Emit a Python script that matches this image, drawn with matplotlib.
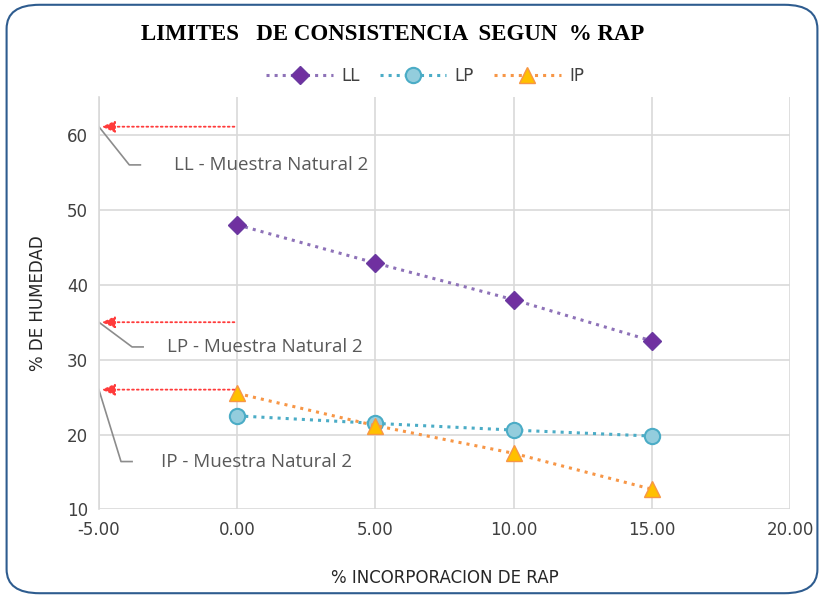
import matplotlib.pyplot as plt
from matplotlib.patches import FancyBboxPatch

# % RAP incorporation and consistency limits
rap = [0, 5, 10, 15]
ll = [48.0, 42.9, 38.0, 32.5]
lp = [22.5, 21.5, 20.6, 19.8]
ip = [25.5, 21.2, 17.5, 12.7]

# natural sample values (arrows to the y axis)
nat_labels = ["LL - Muestra Natural 2", "LP - Muestra Natural 2", "IP - Muestra Natural 2"]
nat_values = [61.1, 35.0, 26.0]
nat_text_y = [56.0, 31.7, 16.4]
nat_text_x = [-2.3, -2.55, -2.75]
nat_kink_x = [-3.9, -3.8, -4.2]

fig = plt.figure(figsize=(8.24, 5.98), dpi=100)
fig.patches.append(FancyBboxPatch((0.008, 0.008), 0.984, 0.984,
                                  boxstyle="round,pad=0,rounding_size=0.04",
                                  transform=fig.transFigure, fill=False,
                                  edgecolor="#2e5c8f", linewidth=1.5))

ax = fig.add_axes([0.120, 0.148, 0.839, 0.689])
ax.set_xlim(-5, 20)
ax.set_ylim(10, 65)
ax.set_xticks([-5, 0, 5, 10, 15, 20])
ax.set_xticklabels([f"{v:.2f}" for v in [-5, 0, 5, 10, 15, 20]])
ax.set_yticks([10, 20, 30, 40, 50, 60])
ax.grid(True, color="#d9d9d9", linewidth=1.2)
ax.set_axisbelow(True)
for s in ["top", "right", "bottom"]:
    ax.spines[s].set_visible(False)
ax.spines["left"].set_color("#d9d9d9")
ax.spines["left"].set_linewidth(1.2)
ax.tick_params(length=0, labelsize=12, colors="#404040", pad=8)

ax.plot(rap, ll, ":", color="#8e72b8", lw=2.2, marker="D", ms=9,
        mfc="#7030a0", mec="#6a3aa0", label="LL")
ax.plot(rap, lp, ":", color="#4bacc6", lw=2.2, marker="o", ms=11,
        mfc="#93cddd", mec="#4bacc6", mew=1.5, label="LP")
ax.plot(rap, ip, ":", color="#f79646", lw=2.2, marker="^", ms=11,
        mfc="#ffc000", mec="#f79646", label="IP")

for lab, v, ty, tx, kx in zip(nat_labels, nat_values, nat_text_y, nat_text_x, nat_kink_x):
    ax.annotate("", xy=(-5, v), xytext=(0, v),
                arrowprops=dict(arrowstyle="-|>,head_length=0.8,head_width=0.35",
                                color="#ff3b3b", lw=1.3, linestyle=":"))
    ax.plot([-5, kx, kx + 0.4], [v, ty, ty], color="#8c8c8c", lw=1.2)
    ax.text(tx, ty, lab, fontsize=13.5, color="#595959", va="center", ha="left",
            family="Open Sans")

ax.set_xlabel("% INCORPORACION DE RAP", fontsize=12, color="#262626", labelpad=22)
ax.set_ylabel("% DE HUMEDAD", fontsize=12, color="#262626", labelpad=14)

fig.text(0.477, 0.942, "LIMITES   DE CONSISTENCIA  SEGUN  % RAP", ha="center",
         va="center", fontsize=16.5, fontweight="bold", family="Liberation Serif",
         color="black")
ax.legend(loc="lower center", bbox_to_anchor=(0.472, 0.995), ncol=3, frameon=False,
          fontsize=12, handlelength=4.0, columnspacing=1.2, handletextpad=0.5,
          labelcolor="#404040")

fig.savefig("out.png", dpi=100)
